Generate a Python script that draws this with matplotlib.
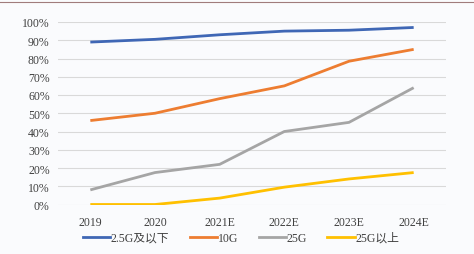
import matplotlib
matplotlib.use("Agg")
import matplotlib.pyplot as plt
from matplotlib.lines import Line2D

categories = ["2019", "2020", "2021E", "2022E", "2023E", "2024E"]
s_25_below = [89, 90.5, 93, 95, 95.5, 97]
s_10g = [46, 50, 58, 65, 78.5, 85]
s_25g = [8, 17.5, 22, 40, 45, 64]
s_25_above = [0, 0, 3.5, 9.5, 14, 17.5]
series_names = ["2.5G及以下", "10G", "25G", "25G以上"]
yticks = [0, 10, 20, 30, 40, 50, 60, 70, 80, 90, 100]

colors = ["#3F67B5", "#ED7D31", "#A5A5A5", "#FFC000"]
fam = ["Liberation Serif", "Noto Sans CJK SC"]
fs = 8.5

fig = plt.figure(figsize=(4.74, 2.55), dpi=100)
fig.patch.set_facecolor("#FAFBFD")
ax = fig.add_axes([58 / 474, 1 - 205.5 / 255, (446 - 58) / 474, (205.5 - 23) / 255])
ax.set_facecolor("#FAFBFD")

x = list(range(len(categories)))
for vals, c in zip([s_25_below, s_10g, s_25g, s_25_above], colors):
    ax.plot(x, vals, color=c, lw=2.0, solid_capstyle="butt", zorder=3)

ax.set_xlim(-0.5, len(categories) - 0.5)
ax.set_ylim(0, 100)
ax.set_yticks(yticks)
ax.set_yticklabels([f"{v}%" for v in yticks], fontfamily=fam, fontsize=fs, color="#404040")
ax.set_xticks(x)
ax.set_xticklabels(categories, fontfamily=fam, fontsize=fs, color="#404040")
ax.grid(axis="y", color="#D9D9D9", lw=0.8, zorder=0)
ax.tick_params(length=0, pad=6)
ax.tick_params(axis="x", pad=8)
for sp in ax.spines.values():
    sp.set_visible(False)

handles = [Line2D([], [], color=c, lw=2.0) for c in colors]
leg = fig.legend(handles, series_names, loc="center", bbox_to_anchor=(241 / 474, 1 - 239 / 255),
                 ncol=4, frameon=False, prop={"family": fam, "size": fs},
                 handlelength=2.3, handletextpad=0.05, columnspacing=1.75)
for t in leg.get_texts():
    t.set_color("#404040")

fig.add_artist(Line2D([0, 1], [1 - 3 / 255, 1 - 3 / 255], transform=fig.transFigure,
                      color="#A07C7C", lw=0.8))

fig.savefig("out.png", dpi=100, facecolor=fig.get_facecolor())
